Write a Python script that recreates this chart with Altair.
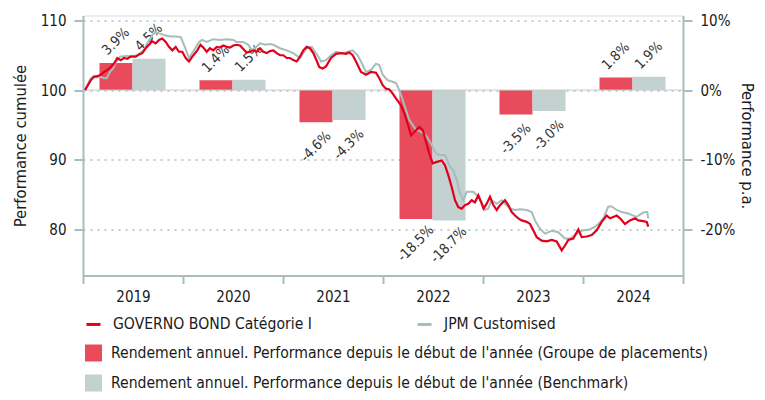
import altair as alt
import pandas as pd

# ---------------- data ----------------
YEARS = [2019, 2020, 2021, 2022, 2023, 2024]
FUND_ANNUAL = [3.9, 1.4, -4.6, -18.5, -3.5, 1.8]
BENCH_ANNUAL = [4.5, 1.5, -4.3, -18.7, -3.0, 1.9]

FUND_T = [2019.02, 2019.077, 2019.11, 2019.143, 2019.177, 2019.21, 2019.243, 2019.277, 2019.31, 2019.343,
          2019.377, 2019.41, 2019.443, 2019.477, 2019.527, 2019.56, 2019.593, 2019.627, 2019.66, 2019.693,
          2019.727, 2019.76, 2019.793, 2019.827, 2019.86, 2019.893, 2019.927, 2019.96, 2019.993, 2020.027,
          2020.06, 2020.093, 2020.143, 2020.175, 2020.21, 2020.237, 2020.27, 2020.303, 2020.337, 2020.37,
          2020.403, 2020.437, 2020.47, 2020.503, 2020.537, 2020.57, 2020.603, 2020.637, 2020.67, 2020.703,
          2020.737, 2020.77, 2020.803, 2020.837, 2020.87, 2020.903, 2020.937, 2020.97, 2021.003, 2021.037,
          2021.07, 2021.103, 2021.137, 2021.17, 2021.203, 2021.237, 2021.27, 2021.303, 2021.337, 2021.363,
          2021.397, 2021.43, 2021.48, 2021.53, 2021.58, 2021.63, 2021.663, 2021.697, 2021.73, 2021.78,
          2021.83, 2021.88, 2021.93, 2021.963, 2021.997, 2022.03, 2022.063, 2022.097, 2022.13, 2022.18,
          2022.213, 2022.247, 2022.28, 2022.313, 2022.363, 2022.397, 2022.43, 2022.463, 2022.497, 2022.54,
          2022.587, 2022.62, 2022.653, 2022.687, 2022.72, 2022.753, 2022.787, 2022.82, 2022.853, 2022.887,
          2022.92, 2022.953, 2022.987, 2023.005, 2023.037, 2023.07, 2023.103, 2023.137, 2023.17, 2023.22,
          2023.253, 2023.287, 2023.32, 2023.353, 2023.387, 2023.437, 2023.47, 2023.503, 2023.537, 2023.587,
          2023.637, 2023.687, 2023.737, 2023.787, 2023.82, 2023.853, 2023.903, 2023.953, 2023.987, 2024.037,
          2024.087, 2024.137, 2024.187, 2024.237, 2024.27, 2024.303, 2024.337, 2024.37, 2024.42, 2024.47,
          2024.52, 2024.553, 2024.603, 2024.637, 2024.653]
FUND_V = [100.0, 101.4, 101.9, 102.0, 102.2, 102.6, 102.9, 103.3, 103.8, 104.6,
          104.3, 104.6, 104.5, 104.8, 104.8, 105.1, 105.3, 106.0, 106.5, 107.0,
          106.7, 107.2, 107.4, 106.9, 106.2, 105.7, 106.2, 105.5, 105.5, 104.6,
          104.1, 104.8, 105.7, 106.5, 106.0, 105.5, 106.0, 105.7, 106.2, 106.1,
          106.4, 106.2, 106.1, 106.4, 106.5, 106.4, 105.9, 105.4, 105.5, 105.7,
          105.5, 106.0, 105.5, 105.3, 105.6, 105.7, 105.3, 105.0, 105.0, 104.6,
          104.6, 104.3, 104.1, 104.8, 105.7, 106.2, 106.0, 105.3, 104.2, 103.3,
          103.1, 103.4, 104.6, 105.2, 105.3, 105.2, 105.4, 105.0, 104.1, 102.6,
          102.2, 102.6, 102.5, 101.7, 100.7, 100.2, 100.1, 99.5, 98.8, 97.8,
          96.7, 95.2, 93.5, 94.0, 94.7, 94.3, 92.6, 90.9, 89.5, 89.7,
          89.9, 89.2, 87.8, 86.1, 84.2, 83.2, 83.0, 83.5, 83.7, 84.2,
          83.9, 84.9, 83.7, 83.0, 83.7, 84.7, 83.5, 82.8, 83.5, 84.2,
          83.5, 82.5, 82.0, 81.6, 81.3, 81.1, 80.8, 79.9, 78.9, 78.4,
          78.3, 78.5, 78.3, 77.0, 77.7, 78.5, 78.7, 80.0, 78.9, 79.0,
          79.2, 79.9, 81.1, 82.0, 81.6, 81.8, 82.0, 81.6, 80.8, 81.3,
          81.6, 81.3, 81.2, 81.1, 80.4]

BENCH_T = [2019.02, 2019.077, 2019.11, 2019.143, 2019.177, 2019.21, 2019.237, 2019.27, 2019.30, 2019.33,
           2019.37, 2019.43, 2019.50, 2019.54, 2019.57, 2019.61, 2019.65, 2019.67, 2019.693, 2019.727,
           2019.77, 2019.81, 2019.87, 2019.93, 2019.977, 2020.01, 2020.06, 2020.11, 2020.16, 2020.19,
           2020.237, 2020.303, 2020.37, 2020.437, 2020.503, 2020.537, 2020.603, 2020.653, 2020.687, 2020.72,
           2020.77, 2020.82, 2020.87, 2020.903, 2020.97, 2021.037, 2021.103, 2021.17, 2021.203, 2021.237,
           2021.287, 2021.32, 2021.353, 2021.38, 2021.43, 2021.48, 2021.53, 2021.597, 2021.647, 2021.697,
           2021.747, 2021.797, 2021.83, 2021.88, 2021.93, 2021.963, 2021.997, 2022.047, 2022.097, 2022.13,
           2022.163, 2022.197, 2022.23, 2022.263, 2022.297, 2022.33, 2022.38, 2022.43, 2022.48, 2022.53,
           2022.57, 2022.62, 2022.67, 2022.703, 2022.737, 2022.77, 2022.803, 2022.837, 2022.903, 2022.953,
           2022.987, 2023.02, 2023.053, 2023.087, 2023.137, 2023.187, 2023.22, 2023.27, 2023.32, 2023.37,
           2023.437, 2023.487, 2023.52, 2023.57, 2023.62, 2023.687, 2023.753, 2023.82, 2023.87, 2023.937,
           2024.003, 2024.07, 2024.12, 2024.153, 2024.203, 2024.253, 2024.287, 2024.337, 2024.387, 2024.453,
           2024.503, 2024.537, 2024.587, 2024.62, 2024.643, 2024.653]
BENCH_V = [100.0, 101.7, 102.0, 101.8, 101.9, 101.7, 101.7, 102.6, 103.1, 104.0,
           104.8, 104.9, 104.9, 105.0, 105.3, 105.8, 106.9, 107.3, 107.9, 108.3,
           108.1, 107.9, 107.7, 107.7, 107.6, 106.5, 104.6, 105.7, 106.9, 107.2,
           106.9, 107.3, 107.2, 107.3, 107.2, 106.9, 106.9, 106.5, 105.7, 106.0,
           106.7, 106.5, 106.6, 106.5, 106.0, 105.7, 105.3, 104.6, 105.3, 106.0,
           106.2, 105.5, 104.8, 104.1, 104.3, 105.0, 105.5, 105.3, 105.5, 105.7,
           105.0, 103.6, 102.6, 102.9, 103.8, 103.6, 102.2, 101.4, 101.2, 101.0,
           100.0, 98.6, 97.1, 95.7, 95.0, 94.3, 94.0, 93.5, 92.3, 90.9,
           90.7, 90.7, 89.0, 88.5, 87.1, 85.2, 84.2, 85.4, 85.4, 84.7,
           83.9, 82.8, 83.0, 84.2, 83.7, 84.2, 83.7, 83.0, 82.8, 82.9,
           82.8, 82.5, 81.3, 80.1, 79.4, 79.8, 79.6, 78.7, 78.7, 79.4,
           79.9, 80.0, 80.4, 80.8, 81.6, 83.3, 83.3, 82.8, 82.5, 82.3,
           82.0, 81.8, 82.3, 82.5, 82.5, 81.6]

FUND_NAME = "GOVERNO BOND Catégorie I"
BENCH_NAME = "JPM Customised"
BAR_FUND = "Rendement annuel. Performance depuis le début de l'année (Groupe de placements)"
BAR_BENCH = "Rendement annuel. Performance depuis le début de l'année (Benchmark)"

# ---------------- style ----------------
RED = "#e2001a"
GREY = "#a7bcbc"
BAR_RED = "#e84c5c"
BAR_GREY = "#c3d1d1"
AXIS = "#a9bdbd"
TXT = "#1a1a1a"
FONT = "DejaVu Sans Condensed"

# ---------------- frames ----------------
fund_df = pd.DataFrame({"t": FUND_T, "v": FUND_V, "series": FUND_NAME})
bench_df = pd.DataFrame({"t": BENCH_T, "v": BENCH_V, "series": BENCH_NAME})

rows = []
for y, f, b in zip(YEARS, FUND_ANNUAL, BENCH_ANNUAL):
    rows.append({"year": y, "kind": BAR_FUND, "v": f, "off0": 0.165, "off1": 0.495})
    rows.append({"year": y, "kind": BAR_BENCH, "v": b, "off0": 0.495, "off1": 0.825})
bars_df = pd.DataFrame(rows)
bars_df["x0"] = bars_df["year"] + bars_df["off0"]
bars_df["x1"] = bars_df["year"] + bars_df["off1"]
bars_df["xc"] = (bars_df["x0"] + bars_df["x1"]) / 2
bars_df["zero"] = 0.0
bars_df["label"] = bars_df["v"].map(lambda v: f"{v:.1f}%")

# ---------------- scales / axes ----------------
x_scale = alt.Scale(domain=[2019, 2025], nice=False, zero=False)
x_axis = alt.Axis(values=list(range(2019, 2026)), format="d",
                  labelExpr="datum.value < 2025 ? datum.label : ''",
                  labelOffset=50, labelFlush=False, labelOverlap=False,
                  grid=False, title=None, domainColor=AXIS, domainWidth=2,
                  tickColor=AXIS, tickWidth=2, tickSize=8, labelPadding=6,
                  labelFont=FONT, labelFontSize=15, labelColor=TXT)

left_scale = alt.Scale(domain=[73.4, 110.7], nice=False, zero=False)
left_axis = alt.Axis(values=[80, 90, 100, 110], grid=True, gridDash=[2, 5],
                     gridColor=AXIS, gridWidth=1.5, title="Performance cumulée",
                     titleFont=FONT, titleFontSize=16.5, titleFontWeight="normal",
                     titleColor=TXT, titlePadding=12, labelFont=FONT, labelFontSize=15,
                     labelColor=TXT, labelPadding=8, tickSize=9, tickWidth=2,
                     tickColor=AXIS, domainColor=AXIS, domainWidth=2, orient="left")

right_scale = alt.Scale(domain=[-26.6, 10.7], nice=False, zero=False)
right_axis = alt.Axis(values=[-20, -10, 0, 10], labelExpr="datum.value + '%'",
                      grid=False, title="Performance p.a.", titleFont=FONT,
                      titleFontSize=16.5, titleFontWeight="normal", titleColor=TXT,
                      titlePadding=4, labelFont=FONT, labelFontSize=15, labelColor=TXT,
                      labelPadding=8, tickSize=9, tickWidth=2, tickColor=AXIS,
                      domainColor=AXIS, domainWidth=2, orient="right")

stroke_scale = alt.Scale(domain=[FUND_NAME, BENCH_NAME], range=[RED, GREY])
fill_scale = alt.Scale(domain=[BAR_FUND, BAR_BENCH], range=[BAR_RED, BAR_GREY])

line_legend = alt.Legend(title=None, orient="none", legendX=2, legendY=300,
                         direction="horizontal", columns=2, columnPadding=99,
                         symbolType="stroke", symbolSize=196, symbolStrokeWidth=3,
                         labelFont=FONT, labelFontSize=15.6, labelColor=TXT,
                         labelOffset=11, labelLimit=800)
bar_legend = alt.Legend(title=None, orient="none", legendX=2, legendY=329,
                        direction="vertical", columns=1, rowPadding=12,
                        symbolType="square", symbolSize=289, symbolStrokeWidth=0,
                        labelFont=FONT, labelFontSize=15.6, labelColor=TXT,
                        labelOffset=9, labelLimit=900)

# ---------------- right group (bars, p.a.) ----------------
bars = alt.Chart(bars_df).mark_rect().encode(
    x=alt.X("x0:Q", scale=x_scale, axis=x_axis),
    x2="x1:Q",
    y=alt.Y("v:Q", scale=right_scale, axis=right_axis),
    y2="zero:Q",
    fill=alt.Fill("kind:N", scale=fill_scale, legend=bar_legend),
)

zero_rule = alt.Chart(pd.DataFrame({"v": [0.0]})).mark_rule(
    color="#c9c9c9", strokeWidth=1
).encode(y=alt.Y("v:Q", scale=right_scale, axis=right_axis))

# dx/dy act in the rotated text frame
text_common = dict(angle=315, align="center", baseline="middle",
                   font=FONT, fontSize=14, color="#333333")
labels_pos = alt.Chart(bars_df).transform_filter("datum.v >= 0").mark_text(
    dx=15, dy=-15, **text_common
).encode(
    x=alt.X("xc:Q", scale=x_scale, axis=x_axis),
    y=alt.Y("v:Q", scale=right_scale, axis=right_axis),
    text="label:N",
)
labels_neg = alt.Chart(bars_df).transform_filter("datum.v < 0").mark_text(
    dx=-17.5, dy=17.5, **text_common
).encode(
    x=alt.X("xc:Q", scale=x_scale, axis=x_axis),
    y=alt.Y("v:Q", scale=right_scale, axis=right_axis),
    text="label:N",
)

right = alt.layer(bars, zero_rule, labels_pos, labels_neg)

# ---------------- left group (cumulative lines) ----------------
def line_layer(df, width):
    return alt.Chart(df).mark_line(strokeWidth=width, interpolate="linear").encode(
        x=alt.X("t:Q", scale=x_scale, axis=x_axis),
        y=alt.Y("v:Q", scale=left_scale, axis=left_axis),
        stroke=alt.Stroke("series:N", scale=stroke_scale, legend=line_legend),
    )

left = alt.layer(line_layer(bench_df, 2), line_layer(fund_df, 2.2))

chart = alt.layer(right, left).resolve_scale(y="independent").properties(
    width=600, height=260, autosize="none",
    padding={"left": 75, "top": 7.5, "right": 74, "bottom": 116.5},
    background="white",
).configure_view(stroke=None).configure(font=FONT)

chart.save("out.html", embed_options={"renderer": "svg", "actions": False})
